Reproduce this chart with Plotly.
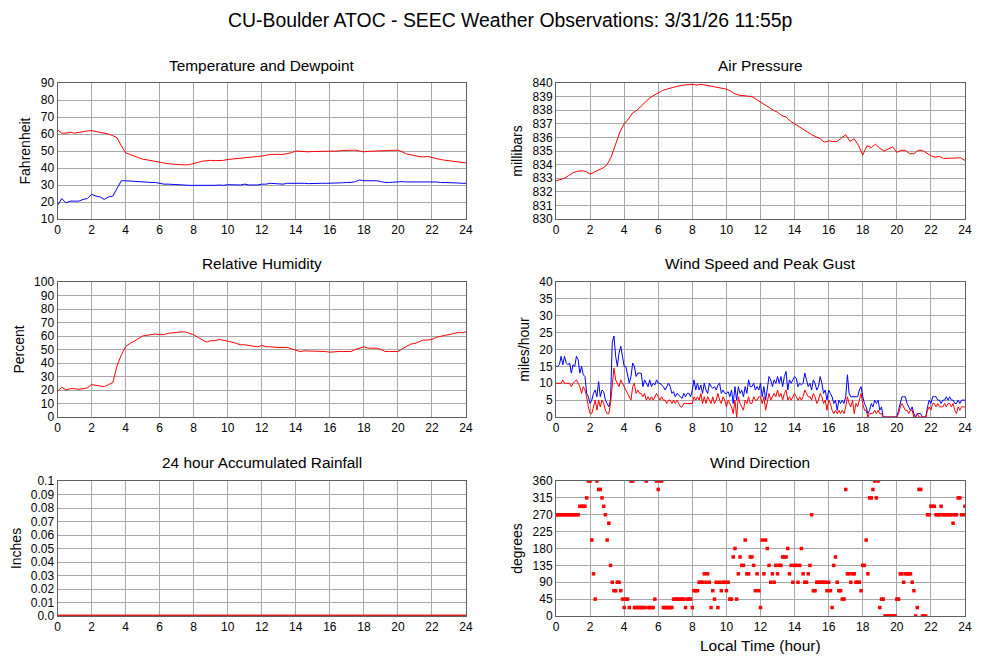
import numpy as np
import plotly.graph_objects as go

# quarter-hour samples
temp_f = [62.5, 60.5, 60.5, 61,
          60.5, 61, 61.3, 61.8,
          62, 61.6, 61.2, 60.5,
          60, 59, 57.8, 53,
          49, 48, 47, 45.8,
          45.2, 44.8, 44.3, 43.8,
          43.5, 43, 42.5, 42.3,
          42, 41.8, 41.8, 42,
          42.5, 43.3, 44, 44.3,
          44.5, 44.3, 44.3, 44.5,
          45, 45.3, 45.5, 46,
          46.3, 46.5, 46.5, 46.8,
          47, 47.5, 48, 48,
          48, 48, 48.5, 49,
          50, 49.8, 49.3, 49.5,
          49.7, 49.7, 49.8, 50,
          50, 50, 50, 50.3,
          50.5, 50.5, 50.5, 50,
          49.5, 49.8, 50, 50,
          50, 50.2, 50.3, 50.5,
          50.5, 49.5, 48.3, 47.8,
          47.2, 46.7, 46.5, 46.8,
          46.2, 45.5, 45, 44.6,
          44.2, 43.8, 43.5, 43.2,
          43]

dewpt_f = [18, 22, 19.5, 20.5,
           20.5, 20.5, 21.5, 22,
           24.5, 23.5, 23, 21.5,
           23, 23.5, 28, 32.5,
           32.5, 32.3, 32, 32,
           32, 31.8, 31.5, 31.5,
           30.8, 30.5, 30.5, 30.3,
           30.2, 30, 29.8, 29.8,
           29.8, 29.8, 29.6, 29.5,
           29.8, 29.8, 30, 29.8,
           30.2, 30, 29.8, 30,
           30.5, 30, 30, 30,
           30.5, 30.5, 31, 30.8,
           30.8, 30.5, 31, 31,
           31.3, 31, 31, 30.8,
           31, 31, 31, 31,
           31, 31.2, 31, 31.3,
           31.5, 31.5, 32, 33,
           32.5, 32.5, 32.2, 32.5,
           32, 31.5, 31.5, 31.8,
           32, 32, 31.8, 31.8,
           32, 32, 32.2, 32,
           32, 31.8, 31.5, 31.5,
           31.3, 31.3, 31.2, 31,
           31]

rel_hum = [19, 22, 20, 21,
           21, 20.5, 21, 21.5,
           24, 23.5, 23, 22.5,
           24, 25.5, 38, 46,
           52, 54.5, 56, 58,
           60, 60.5, 61, 61.5,
           61, 61, 62, 62.5,
           63, 63, 63, 62,
           61, 59, 57, 55.5,
           56.5, 56.5, 57.5, 57,
           56, 55.5, 54.5, 53.5,
           53.5, 53, 52, 52,
           53, 52, 52, 51.5,
           51.5, 51.5, 51.5, 50.5,
           49.5, 48.5, 49, 49,
           49, 49, 49, 48.5,
           48, 48.5, 48.5, 48.5,
           48.5, 48.5, 50, 51,
           52, 51, 51, 51,
           50, 48.5, 48.5, 48.5,
           48.5, 50.5, 52.5, 54,
           54.5, 55.5, 57, 57,
           57.5, 59, 60, 60.5,
           61, 62, 62.5, 62.5,
           63]

pressure_mb = [832.8, 832.9, 833.0, 833.2,
               833.4, 833.5, 833.55, 833.5,
               833.3, 833.45, 833.6, 833.75,
               834.0, 834.6, 835.5, 836.4,
               837.0, 837.35, 837.8, 838.0,
               838.3, 838.6, 838.9, 839.1,
               839.3, 839.45, 839.55, 839.65,
               839.7, 839.8, 839.85, 839.9,
               839.9, 839.85, 839.9, 839.85,
               839.8, 839.75, 839.65, 839.6,
               839.55, 839.4, 839.2, 839.1,
               839.05, 839.0, 839.0, 838.8,
               838.6, 838.35, 838.2, 838.0,
               837.85, 837.6, 837.5, 837.2,
               837.0, 836.8, 836.55, 836.35,
               836.2, 836.05, 835.9, 835.65,
               835.75, 835.7, 835.7, 835.95,
               836.2, 835.7, 835.9, 835.4,
               834.7, 835.4, 835.25, 835.5,
               835.2, 835.0, 835.15, 835.3,
               834.9, 835.05, 835.05, 834.8,
               834.8, 835.05, 835.05, 834.85,
               834.65, 834.55, 834.6, 834.45,
               834.45, 834.5, 834.5, 834.5,
               834.3]

# six-minute samples
wind_gust = [15, 15, 15.5, 18, 15.5, 18, 16, 15.5, 16, 13,
             15.5, 15, 18, 17, 13, 15, 12.5, 12, 7, 6,
             4, 5, 7, 8, 6, 10.5, 6, 8, 7.5, 5,
             4, 3, 5, 22, 24, 18, 15, 19, 21, 18,
             15, 15, 12, 10, 12, 16, 15, 12, 13, 13,
             13, 9, 11, 10, 9, 11, 9, 10, 9.5, 11,
             10, 10, 9.5, 9, 8, 9, 10, 9, 7, 7.5,
             6, 7, 6.5, 6, 5.5, 7, 6, 7, 7, 6,
             8, 11, 8, 10, 8, 9.5, 7, 10, 8, 7,
             10, 9, 8.5, 9, 8, 9.5, 10, 7, 8, 7,
             7, 7.5, 6, 8, 4, 9, 5, 9, 7, 8,
             6, 9, 7, 11, 9, 9, 10, 8, 9, 8,
             10, 6, 9, 5, 8, 12, 11, 9, 11, 10,
             12, 10, 12, 9, 12, 13.5, 8, 11, 10, 11,
             12, 11.5, 9, 10, 9.5, 10, 13, 11, 9, 10,
             8, 11, 10, 8, 9, 12, 10, 7, 8, 5,
             8, 7, 6, 4, 5, 2, 5, 4, 5, 4,
             6, 12.5, 7, 6, 6, 6, 6, 6, 8, 9,
             6, 4, 3, 1, 2, 4, 3, 5, 4, 5,
             2, 3, 0, 0, 0, 0, 0, 0, 0, 0,
             0, 2, 4, 6, 6, 6, 4, 3, 2, 3,
             1, 0, 1, 1, 1, 0, 0, 0, 3, 5,
             4, 6, 6, 6, 5, 5, 4, 5, 5, 6,
             5, 6, 5, 5, 4, 4, 5, 4, 5, 5,
             5]

wind_speed = [10, 10, 10, 10, 11, 10, 10, 10, 10, 9,
              10, 10.5, 11, 10, 9, 7, 9, 8, 6, 3,
              1, 1, 3, 5, 2, 5, 3, 5, 4, 2,
              1, 1, 4, 10, 14.5, 11, 10, 9, 11, 10,
              9, 8, 7, 6, 5, 9, 10, 7, 8, 7,
              7, 6, 7, 5, 6, 5, 6, 5, 6, 7,
              6, 5, 6, 5, 5, 4, 5, 5, 4, 5,
              4, 5, 4, 3, 3, 4, 4, 4, 4, 4,
              4, 6, 5, 6, 5, 7, 4, 6, 4, 6,
              5, 4, 6, 4, 5, 7, 5, 4, 6, 5,
              3, 5, 4, 3, 1, 5, 0, 6, 4, 3,
              2, 5, 4, 6, 4, 4, 6, 5, 5, 6,
              6, 4, 6, 2, 5, 7, 5, 6, 7, 6,
              8, 6, 7, 5, 7, 8, 5, 6, 5, 6,
              7, 6, 5, 6, 5, 6, 8, 7, 6, 6,
              5, 7, 6, 4, 5, 7, 6, 4, 5, 2,
              5, 4, 2, 1, 2, 1, 2, 1, 2, 1,
              3, 6, 4, 3, 5, 1, 4, 3, 5, 7,
              4, 2, 2, 0, 1, 1, 1, 2, 1, 2,
              1, 1, 0, 0, 0, 0, 0, 0, 0, 0,
              0, 1, 3, 4, 3, 2, 2, 1, 2, 2,
              0, 0, 1, 0, 0, 0, 0, 0, 2, 3,
              2, 4, 4, 3, 4, 3, 3, 3, 4, 3,
              4, 4, 3, 4, 2, 1, 3, 2, 3, 3,
              3]

wind_dir = [270, 270, 270, 270, 270, 270, 270, 270, 270, 270,
            270, 270, 270, 270, 292.5, 292.5, 292.5, 292.5, 315, 360,
            360, 202.5, 112.5, 45, 360, 337.5, 337.5, 315, 292.5, 270,
            202.5, 247.5, 135, 90, 67.5, 67.5, 90, 90, 67.5, 45,
            22.5, 45, 45, 22.5, 360, 360, 22.5, 22.5, 22.5, 22.5,
            22.5, 22.5, 22.5, 360, 22.5, 22.5, 22.5, 22.5, 45, 360,
            337.5, 360, 360, 22.5, 22.5, 22.5, 22.5, 22.5, 22.5, 45,
            45, 45, 45, 45, 45, 45, 22.5, 45, 45, 45,
            22.5, 67.5, 67.5, 67.5, 90, 90, 90, 112.5, 90, 112.5,
            90, 22.5, 67.5, 45, 90, 22.5, 90, 67.5, 90, 90,
            67.5, 90, 45, 45, 157.5, 180, 45, 112.5, 157.5, 135,
            135, 202.5, 112.5, 112.5, 157.5, 157.5, 135, 67.5, 112.5, 67.5,
            22.5, 202.5, 112.5, 202.5, 180, 135, 90, 112.5, 90, 135,
            112.5, 135, 135, 157.5, 157.5, 157.5, 180, 112.5, 135, 90,
            135, 135, 90, 135, 180, 112.5, 90, 90, 112.5, 135,
            270, 67.5, 67.5, 90, 90, 90, 90, 90, 90, 67.5,
            90, 67.5, 22.5, 135, 157.5, 90, 67.5, 67.5, 45, 45,
            337.5, 112.5, 112.5, 90, 112.5, 112.5, 90, 90, 90, 67.5,
            135, 135, 202.5, 112.5, 315, 315, 337.5, 360, 315, 360,
            22.5, 45, 45, 0, 0, 0, 0, 0, 0, 0,
            45, 45, 112.5, 112.5, 90, 112.5, 112.5, 112.5, 112.5, 90,
            67.5, 0, 22.5, 337.5, 337.5, 0, 0, 0, 270, 270,
            292.5, 292.5, 292.5, 270, 270, 270, 292.5, 270, 270, 270,
            270, 270, 270, 247.5, 270, 270, 315, 315, 270, 270,
            292.5]

rain_hours = [0, 24]
rain_in = [0.0, 0.0]

hours_q = np.linspace(0, 24, len(temp_f))
hours_w = np.linspace(0, 24, len(wind_speed))
hours_d = np.linspace(0, 24, len(wind_dir))

RED = "#ff0000"
BLUE = "#0000ff"
FONT = "Liberation Sans, Arial, sans-serif"

fig = go.Figure()

def line(x, y, color, ax, width=1):
    fig.add_trace(go.Scatter(x=x, y=y, mode="lines", line=dict(color=color, width=width),
                             xaxis="x" + ax, yaxis="y" + ax, showlegend=False))

line(hours_q, temp_f, RED, "")
line(hours_q, dewpt_f, BLUE, "")
line(hours_q, pressure_mb, RED, "2")
line(hours_q, rel_hum, RED, "3")
line(hours_w, wind_gust, BLUE, "4")
line(hours_w, wind_speed, RED, "4")
line(rain_hours, rain_in, "#dd2222", "5", width=3)
fig.add_trace(go.Scatter(x=hours_d, y=wind_dir, mode="markers",
                         marker=dict(color=RED, size=3.5, symbol="square", line=dict(width=0)),
                         xaxis="x6", yaxis="y6", showlegend=False))

# pixel geometry of the six panels (page coords); the page body has an 8px margin
OFF = 8
W, H = 1000 - OFF, 660 - OFF
col_x = [(57.5, 466), (556, 965)]
row_y = [(83, 219), (282, 417), (481, 616)]

def xdom(c):
    return [(col_x[c][0] - OFF) / W, (col_x[c][1] - OFF) / W]

def ydom(r):
    return [1 - (row_y[r][1] - OFF) / H, 1 - (row_y[r][0] - OFF) / H]

grid = "#a8a8a8"
frame = "#606060"
tickfont = dict(family=FONT, size=12, color="black")

def xaxis(c, r, anchor, **kw):
    d = dict(domain=xdom(c), anchor=anchor, range=[0, 24], tickmode="linear",
             tick0=0, dtick=2, showgrid=True, gridcolor=grid, gridwidth=1,
             showline=True, linecolor=frame, linewidth=1, mirror=True,
             zeroline=False, ticks="", tickfont=tickfont, automargin=False, fixedrange=True)
    d.update(kw)
    return d

def yaxis(c, r, anchor, rng, dtick, title, **kw):
    d = dict(domain=ydom(r), anchor=anchor, range=rng, tickmode="linear",
             tick0=rng[0], dtick=dtick, showgrid=True, gridcolor=grid, gridwidth=1,
             showline=True, linecolor=frame, linewidth=1, mirror=True,
             zeroline=False, ticks="", tickfont=tickfont, automargin=False,
             title=dict(text=title, font=dict(family=FONT, size=14, color="black"), standoff=6))
    d.update(kw)
    return d

rain_ticks = [i / 100 for i in range(11)]
rain_text = ["0.0"] + ["0.0%d" % i for i in range(1, 10)] + ["0.1"]

fig.update_layout(
    width=W, height=H,
    margin=dict(l=0, r=0, t=0, b=0),
    paper_bgcolor="white", plot_bgcolor="white",
    font=dict(family=FONT, color="black"),
    xaxis=xaxis(0, 0, "y"),
    yaxis=yaxis(0, 0, "x", [10, 90], 10, "Fahrenheit"),
    xaxis2=xaxis(1, 0, "y2"),
    yaxis2=yaxis(1, 0, "x2", [830, 840], 1, "millibars"),
    xaxis3=xaxis(0, 1, "y3"),
    yaxis3=yaxis(0, 1, "x3", [0, 100], 10, "Percent"),
    xaxis4=xaxis(1, 1, "y4"),
    yaxis4=yaxis(1, 1, "x4", [0, 40], 5, "miles/hour"),
    xaxis5=xaxis(0, 2, "y5", layer="below traces"),
    yaxis5=yaxis(0, 2, "x5", [0, 0.1], 0.01, "Inches",
                 tickmode="array", tickvals=rain_ticks, ticktext=rain_text),
    xaxis6=xaxis(1, 2, "y6"),
    yaxis6=yaxis(1, 2, "x6", [0, 360], 45, "degrees"),
)

def note(text, xp, yp, size):
    fig.add_annotation(text=text, x=(xp - OFF) / W, y=1 - (yp - OFF) / H,
                       xref="paper", yref="paper",
                       showarrow=False, xanchor="center", yanchor="middle",
                       font=dict(family=FONT, size=size, color="black"))

note("CU-Boulder ATOC - SEEC Weather Observations: 3/31/26 11:55p", 510, 20, 19.4)
note("Temperature and Dewpoint", 262, 65, 15.4)
note("Air Pressure", 760, 65, 15.4)
note("Relative Humidity", 262, 264, 15.4)
note("Wind Speed and Peak Gust", 760, 264, 15.4)
note("24 hour Accumulated Rainfall", 262, 462, 15.4)
note("Wind Direction", 760, 462, 15.4)
note("Local Time (hour)", 760, 645, 15.5)

fig.write_html("out.html")
